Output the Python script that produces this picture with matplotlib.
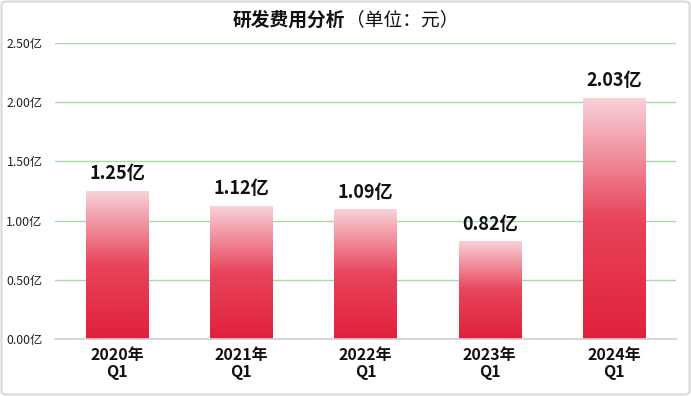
import matplotlib
matplotlib.use("Agg")
import matplotlib.pyplot as plt
import numpy as np
from matplotlib.colors import LinearSegmentedColormap
from matplotlib.patches import FancyBboxPatch

plt.rcParams['font.family'] = ['Noto Sans CJK SC', 'DejaVu Sans']

categories = ["2020年\nQ1", "2021年\nQ1", "2022年\nQ1", "2023年\nQ1", "2024年\nQ1"]
values = [1.25, 1.12, 1.09, 0.82, 2.03]
yticks = [0.0, 0.5, 1.0, 1.5, 2.0, 2.5]

W, H = 691, 396
fig = plt.figure(figsize=(W / 100, H / 100), dpi=100)
ax = fig.add_axes([55 / W, (H - 339) / H, (676 - 55) / W, (339 - 43) / H])

cmap = LinearSegmentedColormap.from_list("g", ["#e0213c", "#e8445b", "#f8d2d8"])
grad = np.linspace(0, 1, 256).reshape(-1, 1)
x = np.arange(len(categories))
bw = 0.5
for xi, v in zip(x, values):
    ax.imshow(grad, extent=[xi - bw / 2, xi + bw / 2, 0, v], origin="lower",
              cmap=cmap, aspect="auto", zorder=2, interpolation="bilinear")
    ax.text(xi, v + 0.07, f"{v:.2f}亿", ha="center", va="bottom",
            fontsize=13, fontweight="bold", color="#111111", zorder=3)

ax.set_xlim(-0.5, len(categories) - 0.5)
ax.set_ylim(0, 2.5)
ax.set_yticks(yticks)
ax.set_yticklabels([f"{t:.2f}亿" for t in yticks], fontsize=8.8, color="#222222")
ax.set_xticks(x)
ax.set_xticklabels(categories, fontsize=11.5, fontweight="bold", color="#111111",
                   linespacing=1.05)
ax.tick_params(axis="both", length=0)
ax.tick_params(axis="y", pad=9)
ax.tick_params(axis="x", pad=6)
ax.grid(axis="y", color="#a9d9a9", linewidth=1, zorder=0)
ax.set_axisbelow(True)
for s in ["top", "right", "left"]:
    ax.spines[s].set_visible(False)
ax.spines["bottom"].set_color("#d0d0d0")
ax.spines["bottom"].set_linewidth(1.2)
ax.spines["bottom"].set_zorder(4)

fig.text(345 / W, 1 - 20 / H, "研发费用分析", ha="right", va="center",
         fontsize=13.5, fontweight="bold", color="#111111")
fig.text(346 / W, 1 - 20 / H, "（单位：元）", ha="left", va="center",
         fontsize=13.5, color="#111111")

border = FancyBboxPatch((1.5 / W, 1.5 / H), (W - 3) / W, (H - 3) / H,
                        boxstyle="round,pad=0,rounding_size=0.008",
                        transform=fig.transFigure, fill=False,
                        edgecolor="#d9d9d9", linewidth=1.5)
fig.patches.append(border)

fig.savefig("out.png", dpi=100)
